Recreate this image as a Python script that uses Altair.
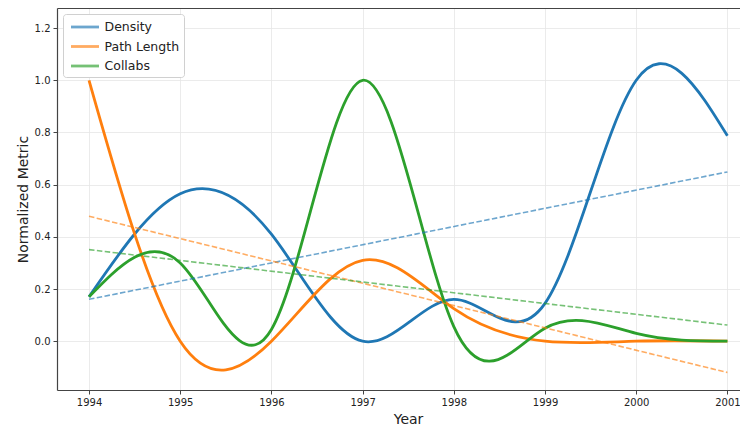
import altair as alt
import pandas as pd

years = [1994, 1995, 1996, 1997, 1998, 1999, 2000, 2001]
density = [0.17, 0.565, 0.41, 0.0, 0.16, 0.145, 1.0, 0.787]
path_length = [1.0, 0.0, 0.0, 0.31, 0.125, 0.0, 0.0, 0.0]
collabs = [0.17, 0.30, 0.045, 1.0, 0.056, 0.05, 0.03, 0.0]
series_names = ["Density", "Path Length", "Collabs"]
colors = ["#1f77b4", "#ff7f0e", "#2ca02c"]
x_ticks = years
y_ticks = [0.0, 0.2, 0.4, 0.6, 0.8, 1.0, 1.2]

rows = []
for name, vals in zip(series_names, [density, path_length, collabs]):
    for yr, v in zip(years, vals):
        rows.append({"year": yr, "value": v, "series": name})
df = pd.DataFrame(rows)

FONT = "DejaVu Sans"
x_scale = alt.Scale(domain=[1993.649, 2001.138], nice=False, zero=False)
y_scale = alt.Scale(domain=[-0.187, 1.277], nice=False, zero=False)
color_scale = alt.Scale(domain=series_names, range=colors)

legend = alt.Legend(
    title=None, orient="none", legendX=6, legendY=6,
    symbolType="M-2,0H2", symbolSize=196, symbolStrokeWidth=2.8,
    symbolOffset=9, labelOffset=11, rowPadding=4.5,
    labelFontSize=12.5, labelFont=FONT, labelColor="#222",
    strokeColor="#d0d0d0", fillColor="white", cornerRadius=3,
    padding=4.5,
)

base = alt.Chart(df)

lines = base.mark_line(interpolate="natural", strokeWidth=2.8, clip=True).encode(
    x=alt.X("year:Q", scale=x_scale,
            axis=alt.Axis(values=x_ticks, format="d", title="Year", orient="bottom",
                          titleX=351, titlePadding=5)),
    y=alt.Y("value:Q", scale=y_scale,
            axis=alt.Axis(values=y_ticks, format=".1f", title="Normalized Metric",
                          titlePadding=4)),
    color=alt.Color("series:N", scale=color_scale, legend=legend),
)

trends = base.transform_regression(
    "year", "value", groupby=["series"], method="linear", extent=[1994, 2001]
).mark_line(strokeDash=[5.5, 2.4], strokeWidth=1.6, opacity=0.65, clip=True).encode(
    x=alt.X("year:Q", scale=x_scale, axis=None),
    y=alt.Y("value:Q", scale=y_scale),
    color=alt.Color("series:N", scale=color_scale, legend=legend),
)

top_spine = base.mark_point(opacity=0).encode(
    x=alt.X("year:Q", scale=x_scale,
            axis=alt.Axis(orient="top", labels=False, ticks=False, grid=False,
                          domain=True, title=None)),
)

chart = alt.layer(lines, trends, top_spine).resolve_axis(x="independent").properties(
    width=683, height=382,
    autosize=alt.AutoSizeParams(type="none"),
    padding={"left": 49, "top": 0, "right": 0, "bottom": 36},
).configure_view(stroke=None).configure_axis(
    domainColor="#444", domainWidth=1.2, tickColor="#444", tickSize=4, tickWidth=1,
    labelFontSize=10, labelFont=FONT, labelColor="#222", labelPadding=3,
    titleFontSize=14, titleFont=FONT, titleFontWeight="normal", titleColor="#222",
    gridColor="#e6e6e6", gridWidth=0.8,
)

chart.save("out.html", embed_options={"renderer": "svg", "actions": False})
